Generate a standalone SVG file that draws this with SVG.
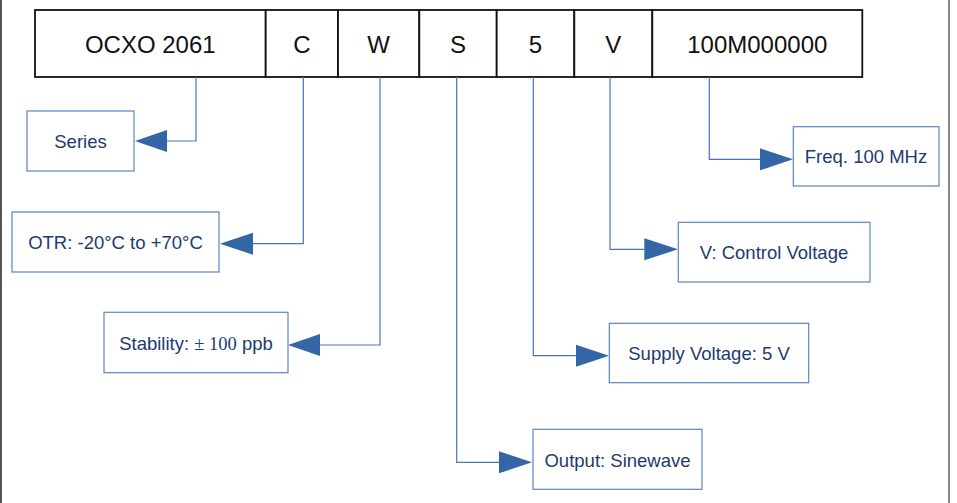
<svg xmlns="http://www.w3.org/2000/svg" width="957" height="503" viewBox="0 0 957 503">
<style>
.cell{fill:#fff;stroke:#111;stroke-width:1.8}
.ct{font-family:"Liberation Sans",Arial,sans-serif;font-size:24px;fill:#111;text-anchor:middle}
.box{fill:#fff;stroke:#5b84c4;stroke-width:1.2}
.lt{font-family:"Liberation Sans",Arial,sans-serif;font-size:18.5px;fill:#1c3b6e;text-anchor:middle}
.ln{fill:none;stroke:#4a74b5;stroke-width:1.2}
.ah{fill:#3465a4}
</style>
<rect x="0" y="0" width="957" height="503" fill="#fff"/>
<line x1="1" y1="0" x2="1" y2="503" stroke="#555" stroke-width="2"/>
<line x1="949" y1="0" x2="949" y2="503" stroke="#888" stroke-width="2"/>
<g id="code">
<rect class="cell" x="35" y="10" width="230.7" height="67"/>
<rect class="cell" x="265.7" y="10" width="72.3" height="67"/>
<rect class="cell" x="338" y="10" width="81.3" height="67"/>
<rect class="cell" x="419.3" y="10" width="77.4" height="67"/>
<rect class="cell" x="496.7" y="10" width="77.6" height="67"/>
<rect class="cell" x="574.3" y="10" width="78" height="67"/>
<rect class="cell" x="652.3" y="10" width="210" height="67"/>
<text class="ct" x="150.3" y="53">OCXO 2061</text>
<text class="ct" x="301.9" y="53">C</text>
<text class="ct" x="378.7" y="53">W</text>
<text class="ct" x="458" y="53">S</text>
<text class="ct" x="535.5" y="53">5</text>
<text class="ct" x="613.3" y="53">V</text>
<text class="ct" x="757.3" y="53">100M000000</text>
</g>
<g id="connectors">
<polyline class="ln" points="196,77 196,141 167,141"/>
<polygon class="ah" points="135,141 167,130 167,152"/>
<polyline class="ln" points="303.3,77 303.3,243.7 253,243.7"/>
<polygon class="ah" points="220,243.7 253,232.7 253,254.7"/>
<polyline class="ln" points="380,77 380,345 320,345"/>
<polygon class="ah" points="288,345 320,334 320,356"/>
<polyline class="ln" points="456.7,77 456.7,462.3 499,462.3"/>
<polygon class="ah" points="532,462.3 499,451.3 499,473.3"/>
<polyline class="ln" points="533.3,77 533.3,355.7 576,355.7"/>
<polygon class="ah" points="609,355.7 576,344.7 576,366.7"/>
<polyline class="ln" points="610,77 610,249.3 644.3,249.3"/>
<polygon class="ah" points="678,249.3 644.3,238.3 644.3,260.3"/>
<polyline class="ln" points="709.3,77 709.3,159.3 760,159.3"/>
<polygon class="ah" points="793,159.3 760,148.3 760,170.3"/>
</g>
<g id="series">
<rect class="box" x="27" y="111" width="107" height="60"/>
<text class="lt" x="80.5" y="148">Series</text>
</g>
<g id="otr">
<rect class="box" x="12" y="212" width="207" height="60"/>
<text class="lt" x="115.5" y="249">OTR: -20°C to +70°C</text>
</g>
<g id="stability">
<rect class="box" x="104" y="312.3" width="184" height="60.4"/>
<text class="lt" x="196" y="349.5">Stability: <tspan font-family="'Liberation Serif','Times New Roman',serif">± 100</tspan> ppb</text>
</g>
<g id="output">
<rect class="box" x="533" y="429.3" width="169" height="60"/>
<text class="lt" x="617.5" y="467">Output: Sinewave</text>
</g>
<g id="supply">
<rect class="box" x="609.3" y="323.3" width="199.4" height="59.4"/>
<text class="lt" x="709" y="360.3">Supply Voltage: 5 V</text>
</g>
<g id="control">
<rect class="box" x="678.3" y="222.3" width="191.7" height="59.7"/>
<text class="lt" x="774" y="259">V: Control Voltage</text>
</g>
<g id="freq">
<rect class="box" x="793.3" y="126.7" width="145.7" height="59.3"/>
<text class="lt" x="866" y="163">Freq. 100 MHz</text>
</g>
</svg>
